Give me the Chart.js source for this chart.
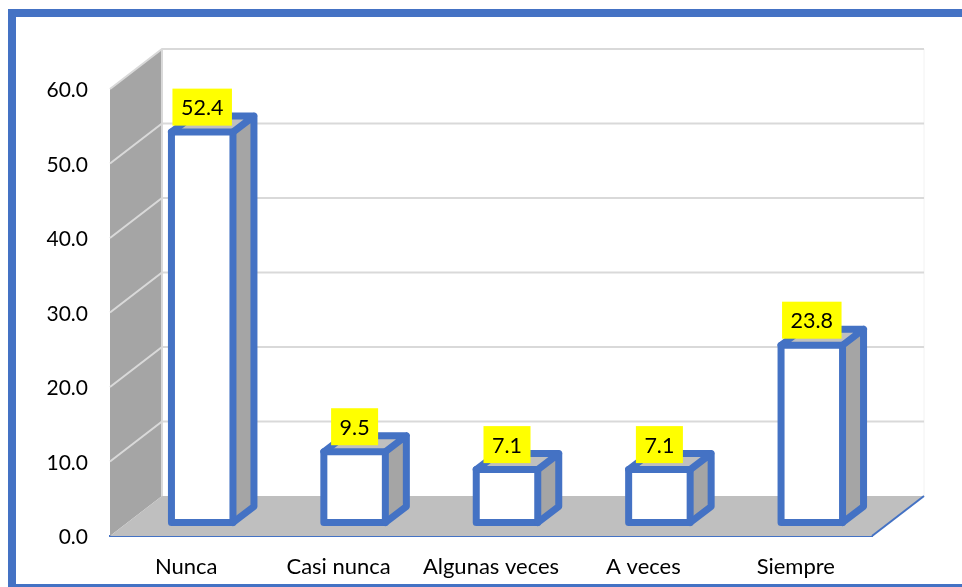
<!DOCTYPE html>
<html>
<head>
<meta charset="utf-8">
<style>
html,body{margin:0;padding:0;background:#fff;width:962px;height:587px;overflow:hidden}
#frame{position:absolute;left:8px;top:9px;right:-10px;bottom:0;border-left:8px solid #4472C4;border-top:8px solid #4472C4;border-bottom:3px solid #4472C4}
canvas{position:absolute;left:0;top:0}
</style>
<script src="https://cdn.jsdelivr.net/npm/chart.js@4"></script>
</head>
<body>
<div id="frame"></div>
<canvas id="c" width="962" height="587"></canvas>
<script>
const categories = ['Nunca', 'Casi nunca', 'Algunas veces', 'A veces', 'Siempre'];
const values = [52.4, 9.5, 7.1, 7.1, 23.8];
const yMin = 0, yMax = 60, yStep = 10;

const BLUE = '#4472C4', WALL = '#A5A5A5', FLOOR = '#BFBFBF', GRID = '#D9D9D9';
const FONT = 'Lato, Carlito, sans-serif';
const DEPTH = {x: 52, y: -40};        // floor depth of the 3D box
const BAR_SHIFT = {x: 16, y: -13.5};  // bars stand inside the floor
const BAR_DEPTH = {x: 21, y: -16};    // depth of every bar

function poly(ctx, pts) {
  ctx.beginPath();
  pts.forEach((p, i) => i ? ctx.lineTo(p[0], p[1]) : ctx.moveTo(p[0], p[1]));
  ctx.closePath();
}

const box3d = {
  id: 'box3d',
  beforeDatasetsDraw(chart) {
    const {ctx, chartArea: a, scales: {y}} = chart;
    const b = y.getPixelForValue(yMin), t = y.getPixelForValue(yMax);
    const dx = DEPTH.x, dy = DEPTH.y;
    ctx.save();
    // back wall edges
    ctx.strokeStyle = '#F2F2F2'; ctx.lineWidth = 1;
    ctx.beginPath(); ctx.moveTo(a.right + dx, t + dy); ctx.lineTo(a.right + dx, b + dy); ctx.stroke();
    // left wall
    ctx.fillStyle = WALL;
    poly(ctx, [[a.left, t], [a.left + dx, t + dy], [a.left + dx, b + dy], [a.left, b]]);
    ctx.fill();
    // floor
    ctx.fillStyle = FLOOR;
    poly(ctx, [[a.left, b], [a.right, b], [a.right + dx, b + dy], [a.left + dx, b + dy]]);
    ctx.fill();
    // gridlines on both walls
    ctx.strokeStyle = GRID; ctx.lineWidth = 2; ctx.lineJoin = 'miter';
    y.ticks.forEach(tk => {
      const py = y.getPixelForValue(tk.value);
      if (tk.value === yMin) return;
      ctx.beginPath();
      ctx.moveTo(a.left, py);
      ctx.lineTo(a.left + dx, py + dy);
      ctx.lineTo(a.right + dx, py + dy);
      ctx.stroke();
    });
    ctx.beginPath(); ctx.moveTo(a.left + dx, t + dy); ctx.lineTo(a.left + dx, b + dy); ctx.stroke();
    // floor edges
    ctx.strokeStyle = BLUE; ctx.lineWidth = 2;
    ctx.beginPath(); ctx.moveTo(a.right, b); ctx.lineTo(a.right + dx, b + dy); ctx.stroke();
    // side and top faces of the bars
    const meta = chart.getDatasetMeta(0);
    ctx.translate(BAR_SHIFT.x, BAR_SHIFT.y);
    meta.data.forEach(el => {
      const p = el.getProps(['x', 'y', 'base', 'width'], true);
      const r = p.x + p.width / 2, l = p.x - p.width / 2;
      const ox = BAR_DEPTH.x, oy = BAR_DEPTH.y;
      ctx.fillStyle = WALL;
      poly(ctx, [[r, p.y], [r + ox, p.y + oy], [r + ox, p.base + oy], [r, p.base]]);
      ctx.fill();
      ctx.fillStyle = FLOOR;
      poly(ctx, [[l, p.y], [l + ox, p.y + oy], [r + ox, p.y + oy], [r, p.y]]);
      ctx.fill();
    });
    ctx.restore();
  },
  beforeDatasetDraw(chart) {
    chart.ctx.save();
    chart.ctx.translate(BAR_SHIFT.x, BAR_SHIFT.y);
  },
  afterDatasetDraw(chart) {
    chart.ctx.restore();
  },
  afterDatasetsDraw(chart) {
    const {ctx} = chart;
    const meta = chart.getDatasetMeta(0);
    ctx.save();
    ctx.translate(BAR_SHIFT.x, BAR_SHIFT.y);
    meta.data.forEach((el, i) => {
      const p = el.getProps(['x', 'y', 'base', 'width'], true);
      const r = p.x + p.width / 2, l = p.x - p.width / 2;
      const ox = BAR_DEPTH.x, oy = BAR_DEPTH.y;
      ctx.strokeStyle = BLUE; ctx.lineWidth = 7; ctx.lineJoin = 'round'; ctx.lineCap = 'round';
      poly(ctx, [[l, p.y], [r, p.y], [r, p.base], [l, p.base]]);
      ctx.stroke();
      ctx.beginPath();
      ctx.moveTo(l, p.y); ctx.lineTo(l + ox, p.y + oy); ctx.lineTo(r + ox, p.y + oy);
      ctx.lineTo(r + ox, p.base + oy); ctx.lineTo(r, p.base);
      ctx.moveTo(r, p.y); ctx.lineTo(r + ox, p.y + oy);
      ctx.stroke();
      // data label
      const txt = values[i].toFixed(1);
      ctx.font = '21.5px ' + FONT;
      const w = ctx.measureText(txt).width + 17, h = 37;
      const bottom = p.y - 6.5;
      ctx.fillStyle = '#FFFF00';
      ctx.fillRect(p.x - w / 2, bottom - h, w, h);
      ctx.fillStyle = '#000';
      ctx.textAlign = 'center'; ctx.textBaseline = 'middle';
      ctx.fillText(txt, p.x, bottom - h / 2 + 1);
    });
    ctx.restore();
  }
};

new Chart(document.getElementById('c'), {
  type: 'bar',
  data: {
    labels: categories,
    datasets: [{
      data: values,
      backgroundColor: '#FFFFFF',
      borderWidth: 0,
      inflateAmount: 0,
      barThickness: 61.5
    }]
  },
  plugins: [box3d],
  options: {
    responsive: false,
    animation: false,
    layout: {padding: {top: 89, right: 90, left: 0, bottom: 0}},
    plugins: {legend: {display: false}, tooltip: {enabled: false}, title: {display: false}},
    scales: {
      x: {
        afterFit(s) { s.height = 51; },
        grid: {display: false, drawTicks: false},
        border: {display: true, color: BLUE, width: 2},
        ticks: {color: '#000', font: {family: FONT, size: 22}, padding: 18, maxRotation: 0, autoSkip: false}
      },
      y: {
        min: yMin, max: yMax,
        afterFit(s) { s.width = 110; },
        grid: {display: false, drawTicks: false},
        border: {display: false},
        ticks: {
          stepSize: yStep, color: '#000', padding: 22, labelOffset: 1.5,
          font: {family: FONT, size: 21},
          callback: v => v.toFixed(1)
        }
      }
    }
  }
});
</script>
</body>
</html>
